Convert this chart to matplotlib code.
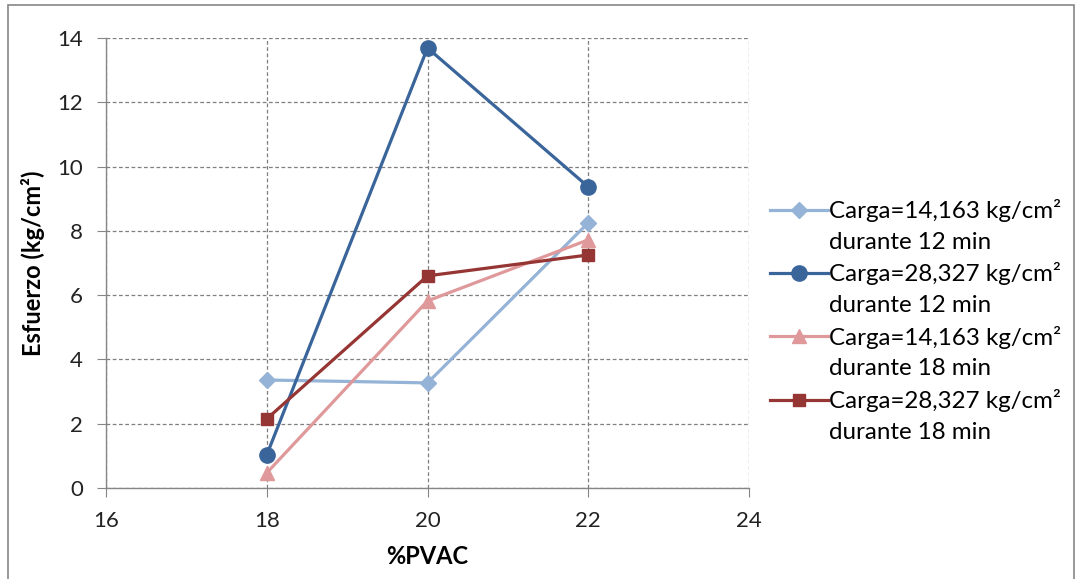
import numpy as np
import matplotlib.pyplot as plt
from matplotlib.lines import Line2D
from matplotlib.patches import Rectangle

plt.rcParams['font.family'] = ['Lato', 'DejaVu Sans']

pvac = [18, 20, 22]
carga14_12 = [3.36, 3.27, 8.25]
carga28_12 = [1.03, 13.69, 9.37]
carga14_18 = [0.47, 5.82, 7.72]
carga28_18 = [2.15, 6.60, 7.25]
cargas = ['Carga=14,163 kg/cm²', 'Carga=28,327 kg/cm²',
          'Carga=14,163 kg/cm²', 'Carga=28,327 kg/cm²']
tiempos = ['durante 12 min', 'durante 12 min', 'durante 18 min', 'durante 18 min']

fig = plt.figure(figsize=(10.78, 5.79), dpi=100)
ax = fig.add_axes([106/1078, 1 - 488/579, (749 - 106)/1078, (488 - 38)/579])

lines = []
lines += ax.plot(pvac, carga14_12, color='#95B3D7', lw=2.3, marker='D', ms=8)
lines += ax.plot(pvac, carga28_12, color='#3A659A', lw=2.3, marker='o', ms=11)
lines += ax.plot(pvac, carga14_18, color='#E0999A', lw=2.3, marker='^', ms=10)
lines += ax.plot(pvac, carga28_18, color='#963634', lw=2.3, marker='s', ms=9)

ax.set_xlim(16, 24)
ax.set_ylim(0, 14)
ax.set_xticks(np.arange(16, 25, 2))
ax.set_yticks(np.arange(0, 15, 2))
ax.grid(True, color='#7F7F7F', ls=(0, (3, 2)), lw=0.9)
for s in ['top', 'right']:
    ax.spines[s].set_visible(False)
for s in ['left', 'bottom']:
    ax.spines[s].set_color('#868686')
    ax.spines[s].set_linewidth(1.0)
ax.tick_params(direction='out', length=6.5, color='#868686', labelsize=16,
               labelcolor='#222222', pad=10)
ax.set_xlabel('%PVAC', fontsize=17, fontweight='bold', labelpad=10)
ax.set_ylabel('Esfuerzo (kg/cm²)', fontsize=17, fontweight='bold', labelpad=9)

# legend: each label on two rows, marker only beside the first row
blank = Line2D([], [], color='none')
handles, texts = [], []
for ln, c, t in zip(lines, cargas, tiempos):
    handles += [ln, blank]
    texts += [c, t]
ax.legend(handles, texts, loc='upper left', bbox_to_anchor=(770/1078, 1 - 199/579),
          bbox_transform=fig.transFigure, frameon=False, fontsize=17.4,
          handlelength=2.4, handletextpad=0.05, labelspacing=0.40,
          borderpad=0, borderaxespad=0)

# outer chart frame
fig.add_artist(Rectangle((8/1078, -0.05), 1066/1078, 1.05 - 5/579,
                         transform=fig.transFigure, fill=False,
                         ec='#868686', lw=1.2))

fig.savefig('out.png', dpi=100)
